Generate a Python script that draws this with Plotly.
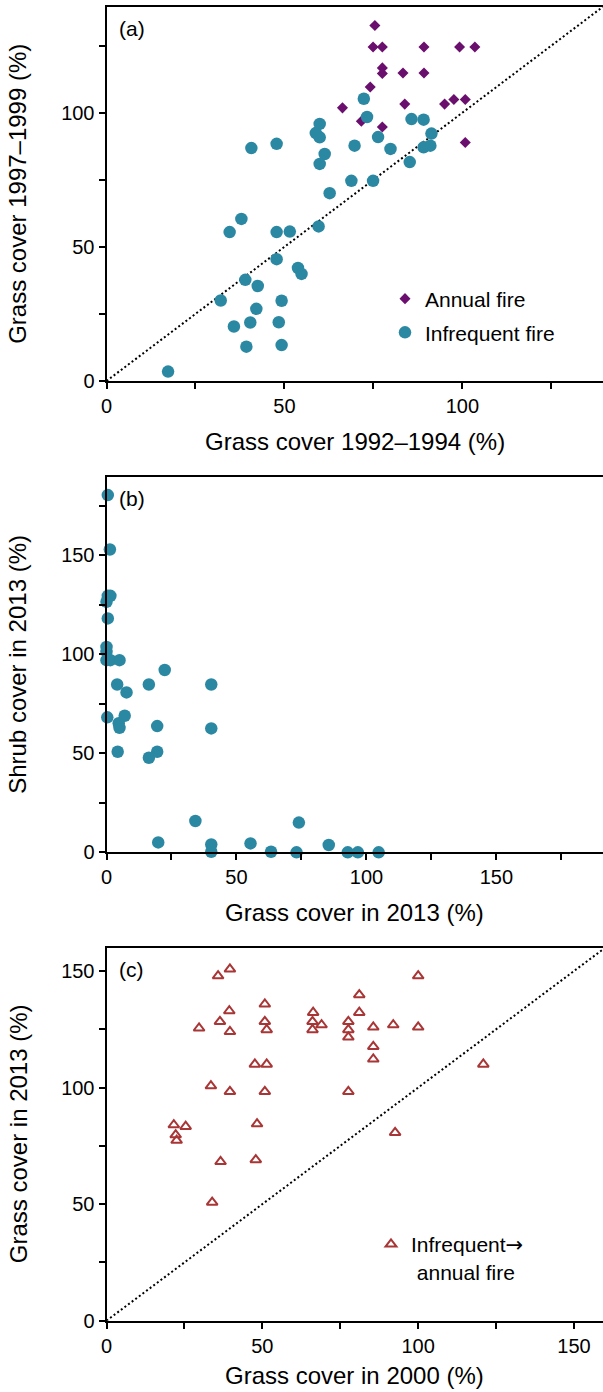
import plotly.graph_objects as go

FONT = "Liberation Sans, Arial, Helvetica, sans-serif"
PURPLE = "#6b0f6e"
TEAL = "#2b88a2"
RED = "#a83636"

# ---- (a) grass cover 1992-1994 vs 1997-1999 ----
annual_x = [75.4, 74.9, 77.5, 89.2, 99.2, 103.5, 77.5, 77.5, 83.3, 89.2,
            74.1, 66.3, 83.8, 95.0, 97.6, 100.8, 71.6, 77.5, 100.8]
annual_y = [132.5, 124.5, 124.5, 124.5, 124.5, 124.5, 116.7, 114.6, 114.8, 114.8,
            109.6, 101.8, 103.2, 103.2, 104.9, 104.9, 96.8, 94.7, 88.9]

infreq_x = [59.9, 58.8, 59.9, 40.7, 47.8, 61.3, 59.9, 62.7, 72.3, 73.2,
            85.7, 89.1, 91.3, 76.3, 69.7, 79.8, 89.1, 91.0, 85.2, 68.8,
            74.9, 37.9, 34.6, 47.8, 51.5, 59.6, 47.8, 53.8, 54.8, 39.0,
            42.5, 32.1, 49.2, 42.1, 35.8, 40.4, 48.4, 39.3, 49.2, 17.3]
infreq_y = [95.8, 92.4, 90.8, 86.8, 88.4, 84.6, 80.9, 70.0, 105.2, 98.4,
            97.6, 97.4, 92.2, 90.9, 87.7, 86.5, 87.1, 87.7, 81.6, 74.6,
            74.6, 60.4, 55.5, 55.5, 55.7, 57.6, 45.4, 42.1, 39.9, 37.7,
            35.4, 30.0, 29.9, 26.9, 20.3, 21.8, 21.9, 12.8, 13.4, 3.5]

# ---- (b) grass vs shrub cover in 2013 ----
grass_2013_b = [0.5, 1.3, 0.5, 1.5, 0.0, 0.5, 0.0, 0.0, 0.0, 1.5,
                5.0, 4.1, 16.3, 22.4, 7.7, 40.3, 0.3, 7.0, 4.7, 5.0,
                19.5, 40.3, 4.3, 16.3, 19.5, 34.2, 74.0, 19.9, 40.3, 40.3,
                55.4, 63.3, 73.1, 85.5, 92.8, 96.7, 104.7]
shrub_2013_b = [180.5, 153.0, 129.6, 129.6, 126.6, 118.2, 103.8, 101.3, 97.1, 97.1,
                97.1, 84.8, 84.8, 92.1, 80.8, 84.8, 68.2, 69.0, 65.2, 62.9,
                63.8, 62.6, 50.8, 47.8, 50.8, 15.8, 15.0, 5.0, 4.0, 0.3,
                4.5, 0.3, 0.0, 3.7, 0.0, 0.0, 0.0]

# ---- (c) grass cover 2000 vs 2013 ----
grass_2000_c = [39.6, 35.8, 50.8, 39.4, 36.4, 29.7, 39.6, 50.8, 51.4, 66.3,
                66.1, 66.1, 69.0, 77.6, 77.6, 77.6, 47.6, 51.4, 33.5, 39.6,
                50.8, 77.6, 100.0, 81.1, 81.1, 85.6, 92.0, 100.0, 85.6, 85.6,
                120.9, 21.6, 25.4, 22.2, 22.5, 48.3, 36.6, 47.9, 33.9, 92.6]
grass_2013_c = [150.8, 147.9, 135.8, 132.9, 128.3, 125.5, 124.0, 128.3, 124.8, 132.2,
                128.3, 124.8, 126.9, 128.3, 124.8, 121.6, 110.0, 110.0, 100.7, 98.3,
                98.3, 98.3, 147.9, 139.8, 132.2, 125.9, 126.9, 125.9, 117.6, 112.2,
                110.0, 84.0, 83.3, 79.7, 77.3, 84.4, 68.2, 69.0, 50.8, 80.7]

# axis extents
range_a = [0, 139.5]
range_bx = [0, 191]
range_by = [0, 189.5]
range_cx = [0, 159.3]
range_cy = [0, 160]

tick_vals = [0, 25, 50, 75, 100, 125, 150, 175]
tick_text = ["0", "", "50", "", "100", "", "150", ""]

W, H = 603, 1392
LEFT = 106.5
panels = {"a": (6.7, 381.0), "b": (477.3, 852.3), "c": (947.7, 1320.7)}


def ydom(top, bottom):
    return [1 - bottom / H, 1 - top / H]


fig = go.Figure()

# (a)
fig.add_trace(go.Scatter(x=range_a, y=range_a, mode="lines", showlegend=False,
                         line=dict(color="black", width=2, dash="2px,2.5px"),
                         xaxis="x", yaxis="y", hoverinfo="skip"))
fig.add_trace(go.Scatter(x=annual_x, y=annual_y, mode="markers", name="Annual fire",
                         marker=dict(symbol="diamond", size=8.5, color=PURPLE),
                         xaxis="x", yaxis="y", legend="legend"))
fig.add_trace(go.Scatter(x=infreq_x, y=infreq_y, mode="markers", name="Infrequent fire",
                         marker=dict(symbol="circle", size=12.5, color=TEAL),
                         xaxis="x", yaxis="y", legend="legend2"))

# (b)
fig.add_trace(go.Scatter(x=grass_2013_b, y=shrub_2013_b, mode="markers", showlegend=False,
                         marker=dict(symbol="circle", size=12.5, color=TEAL),
                         xaxis="x2", yaxis="y2", cliponaxis=False))

# (c)
fig.add_trace(go.Scatter(x=range_cy, y=range_cy, mode="lines", showlegend=False,
                         line=dict(color="black", width=2, dash="2px,2.5px"),
                         xaxis="x3", yaxis="y3", hoverinfo="skip"))
fig.add_trace(go.Scatter(x=grass_2000_c, y=grass_2013_c, mode="markers",
                         name="Infrequent<span style=\"font-family:'DejaVu Sans'\">\u2192</span>"
                              "<br>\u00a0annual fire",
                         marker=dict(symbol="triangle-up-open", size=9.5, color=RED,
                                     line=dict(width=2, color=RED)),
                         xaxis="x3", yaxis="y3", legend="legend3"))

tickfont = dict(family=FONT, size=20, color="black")
axis_base = dict(showline=True, linecolor="black", linewidth=2, ticks="outside",
                 ticklen=6, tickwidth=1.5, tickcolor="black", showgrid=False,
                 zeroline=False, tickfont=tickfont, tickmode="array",
                 tickvals=tick_vals, ticktext=tick_text, automargin=False,
                 fixedrange=True)

xdom = [LEFT / W, 1.0]
layout = dict(
    width=W, height=H, margin=dict(l=0, r=0, t=0, b=0, pad=0),
    paper_bgcolor="white", plot_bgcolor="white",
    font=dict(family=FONT, color="black"),
    xaxis=dict(axis_base, domain=xdom, range=range_a, anchor="y", mirror=True),
    yaxis=dict(axis_base, domain=ydom(*panels["a"]), range=range_a, anchor="x"),
    xaxis2=dict(axis_base, domain=xdom, range=range_bx, anchor="y2", mirror=True),
    yaxis2=dict(axis_base, domain=ydom(*panels["b"]), range=range_by, anchor="x2"),
    xaxis3=dict(axis_base, domain=xdom, range=range_cx, anchor="y3", mirror=True),
    yaxis3=dict(axis_base, domain=ydom(*panels["c"]), range=range_cy, anchor="x3"),
)

legend_base = dict(font=dict(family=FONT, size=21, color="black"), bgcolor="rgba(0,0,0,0)",
                   xanchor="left", yanchor="middle", itemsizing="trace",
                   borderwidth=0, valign="top")
layout["legend"] = dict(legend_base, x=(405 - 20) / W, y=1 - 299 / H)
layout["legend2"] = dict(legend_base, x=(405 - 20) / W, y=1 - 332.7 / H)
layout["legend3"] = dict(legend_base, x=(391 - 20) / W, y=1 - 1258 / H)

fig.update_layout(**layout)

title_font = dict(family=FONT, size=24, color="black")
plot_cx = (LEFT + W) / 2 / W


def add_titles(xt, yt, top, bottom, label, x_gap=60):
    fig.add_annotation(text=xt, x=plot_cx, y=1 - (bottom + x_gap) / H, xref="paper", yref="paper",
                       showarrow=False, font=title_font, xanchor="center", yanchor="middle")
    fig.add_annotation(text=yt, x=18 / W, y=1 - (top + bottom) / 2 / H, xref="paper", yref="paper",
                       showarrow=False, font=title_font, textangle=-90,
                       xanchor="center", yanchor="middle")
    fig.add_annotation(text=label, x=117 / W, y=1 - (top + 21.6) / H, xref="paper", yref="paper",
                       showarrow=False, font=dict(family=FONT, size=21, color="black"),
                       xanchor="left", yanchor="middle")


add_titles("Grass cover 1992\u20131994 (%)", "Grass cover 1997\u20131999 (%)", *panels["a"], "(a)")
add_titles("Grass cover in 2013 (%)", "Shrub cover in 2013 (%)", *panels["b"], "(b)")
add_titles("Grass cover in 2000 (%)", "Grass cover in 2013 (%)", *panels["c"], "(c)", x_gap=55)

fig.write_html("out.html")
